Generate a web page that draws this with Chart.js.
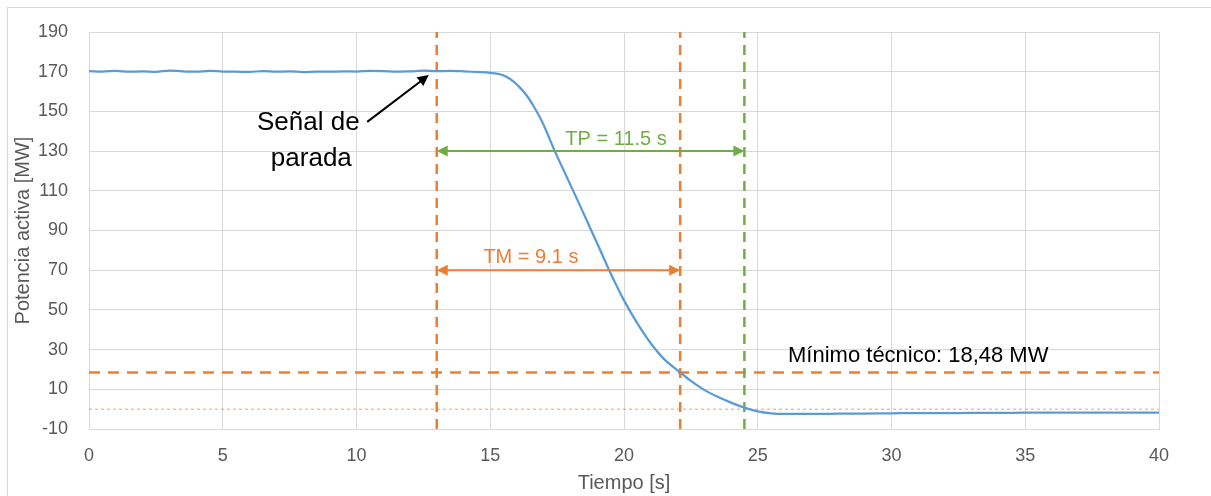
<!DOCTYPE html>
<html>
<head>
<meta charset="utf-8">
<script src="https://cdn.jsdelivr.net/npm/chart.js@4.4.1/dist/chart.umd.min.js"></script>
<style>
  body { margin: 0; background: #fff; }
  #wrap { width: 1211px; height: 496px; position: relative; }
</style>
</head>
<body>
<div id="wrap"><canvas id="powerChart"></canvas></div>
<script>
// tiempo [s] y potencia activa [MW]
const tiempo = [0, 0.5, 1, 1.5, 2, 2.5, 3, 3.5, 4, 4.5, 5, 5.5, 6, 6.5, 7, 7.5, 8, 8.5, 9, 9.5,
  10, 10.5, 11, 11.5, 12, 12.5, 13, 13.5, 14, 14.6, 15, 15.36, 15.6, 15.85, 16.1, 16.37, 16.6, 16.86,
  17.1, 17.38, 17.86, 18.36, 18.85, 19.1, 19.4, 19.7, 20, 20.5, 21, 21.5, 22.1, 22.5, 23, 23.5,
  24, 24.5, 25, 25.5, 26, 27, 28, 29, 30, 31, 32, 33, 34, 35, 36, 37, 38, 39, 40];
const potencia = [170.3, 170.1, 170.4, 170.0, 170.2, 169.9, 170.6, 170.2, 170.0, 170.4, 170.1, 170.0, 169.9, 170.3, 170.0, 170.2, 169.8, 170.1, 170.0, 170.2,
  170.1, 170.4, 170.3, 170.0, 170.2, 170.5, 170.3, 170.4, 170.2, 169.8, 169.4, 168.7, 167.4, 165.2, 162.1, 157.9, 153.1, 146.9,
  140.0, 131.0, 117.0, 102.4, 87.9, 80.4, 71.4, 62.8, 54.8, 43.2, 33.2, 25.2, 18.5, 14.2, 9.7, 6.2,
  3.3, 0.8, -1.1, -2.1, -2.4, -2.4, -2.3, -2.2, -2.1, -2.0, -2.0, -1.9, -1.9, -1.8, -1.8, -1.8, -1.7, -1.7, -1.7];

const xTicks = { min: 0, max: 40, step: 5 };
const yTicks = { min: -10, max: 190, step: 20 };

// marcas
const senalParada = 13;
const finTM = 22.1;
const finTP = 24.5;
const minimoTecnico = 18.48;
const nivelTP = 130;
const nivelTM = 70;
const textoTP = 'TP = 11.5 s';
const textoTM = 'TM = 9.1 s';
const textoMinimo = 'Mínimo técnico: 18,48 MW';
const textoSenal = ['Señal de', 'parada'];
const flechaSenal = [[10.4, 144.7], [12.7, 168.3]];

const BLUE = '#5B9BD5';
const ORANGE = '#ED7D31';
const GREEN = '#70AD47';
const GRID = '#D9D9D9';
const FONT = "'Liberation Sans', Arial, sans-serif";

function vline(x, color) {
  return {
    data: [{ x: x, y: yTicks.min }, { x: x, y: yTicks.max }],
    borderColor: color, borderWidth: 2.5, borderDash: [10, 7], pointRadius: 0
  };
}

function arrowHead(ctx, x, y, dir, color) {
  ctx.fillStyle = color;
  ctx.beginPath();
  ctx.moveTo(x, y);
  ctx.lineTo(x - dir * 11, y - 5.5);
  ctx.lineTo(x - dir * 11, y + 5.5);
  ctx.closePath();
  ctx.fill();
}

const annotations = {
  id: 'annotations',
  beforeDraw(chart) {
    const ctx = chart.ctx;
    ctx.save();
    ctx.strokeStyle = GRID;
    ctx.lineWidth = 1;
    ctx.strokeRect(7.5, 7.5, 3000, 3000);
    ctx.restore();
  },
  afterDatasetsDraw(chart) {
    const ctx = chart.ctx;
    const xs = chart.scales.x, ys = chart.scales.y;
    ctx.save();

    // doble flecha TP / TM
    [[finTP, nivelTP, GREEN, textoTP, 19.7, 6], [finTM, nivelTM, ORANGE, textoTM, 16.52, 7]].forEach(a => {
      const x1 = xs.getPixelForValue(senalParada), x2 = xs.getPixelForValue(a[0]);
      const y = ys.getPixelForValue(a[1]);
      ctx.strokeStyle = a[2];
      ctx.lineWidth = 2;
      ctx.beginPath();
      ctx.moveTo(x1 + 6, y);
      ctx.lineTo(x2 - 6, y);
      ctx.stroke();
      arrowHead(ctx, x1, y, -1, a[2]);
      arrowHead(ctx, x2, y, 1, a[2]);
      ctx.fillStyle = a[2];
      ctx.font = '20px ' + FONT;
      ctx.textAlign = 'center';
      ctx.textBaseline = 'alphabetic';
      ctx.fillText(a[3], xs.getPixelForValue(a[4]), y - a[5]);
    });

    // mínimo técnico
    ctx.fillStyle = '#000';
    ctx.font = '22px ' + FONT;
    ctx.textAlign = 'center';
    ctx.fillText(textoMinimo, xs.getPixelForValue(31), ys.getPixelForValue(minimoTecnico) - 10);

    // señal de parada
    ctx.font = '26px ' + FONT;
    const tx = xs.getPixelForValue(8.2);
    const ty = ys.getPixelForValue(flechaSenal[0][1]) + 8;
    ctx.fillText(textoSenal[0], tx, ty);
    ctx.fillText(textoSenal[1], tx + 3, ty + 36);

    const ax1 = xs.getPixelForValue(flechaSenal[0][0]), ay1 = ys.getPixelForValue(flechaSenal[0][1]);
    const ax2 = xs.getPixelForValue(flechaSenal[1][0]), ay2 = ys.getPixelForValue(flechaSenal[1][1]);
    const ang = Math.atan2(ay2 - ay1, ax2 - ax1);
    ctx.strokeStyle = '#000';
    ctx.lineWidth = 2;
    ctx.beginPath();
    ctx.moveTo(ax1, ay1);
    ctx.lineTo(ax2 - 8 * Math.cos(ang), ay2 - 8 * Math.sin(ang));
    ctx.stroke();
    ctx.translate(ax2, ay2);
    ctx.rotate(ang);
    arrowHead(ctx, 0, 0, 1, '#000');
    ctx.restore();
  }
};

new Chart(document.getElementById('powerChart'), {
  type: 'line',
  data: {
    datasets: [
      {
        data: tiempo.map((t, i) => ({ x: t, y: potencia[i] })),
        borderColor: BLUE, borderWidth: 2.25, pointRadius: 0,
        cubicInterpolationMode: 'monotone'
      },
      vline(senalParada, ORANGE),
      vline(finTM, ORANGE),
      vline(finTP, GREEN),
      {
        data: [{ x: xTicks.min, y: minimoTecnico }, { x: xTicks.max, y: minimoTecnico }],
        borderColor: ORANGE, borderWidth: 2.5, borderDash: [11, 8], pointRadius: 0
      },
      {
        data: [{ x: xTicks.min, y: 0 }, { x: xTicks.max, y: 0 }],
        borderColor: 'rgba(237,125,49,0.75)', borderWidth: 1, borderDash: [3, 3], pointRadius: 0
      }
    ]
  },
  options: {
    responsive: true,
    maintainAspectRatio: false,
    animation: false,
    layout: { padding: { top: 32, right: 52, left: 0, bottom: 0 } },
    plugins: { legend: { display: false }, tooltip: { enabled: false } },
    scales: {
      x: {
        type: 'linear', min: xTicks.min, max: xTicks.max,
        ticks: { stepSize: xTicks.step, color: '#595959', padding: 16, font: { family: FONT, size: 18 } },
        grid: { color: GRID, drawTicks: false },
        border: { color: GRID },
        title: { display: true, text: 'Tiempo [s]', color: '#595959', font: { family: FONT, size: 20 }, padding: { top: 0, bottom: 1 } },
        afterFit: s => { s.height = 67; }
      },
      y: {
        min: yTicks.min, max: yTicks.max,
        ticks: { stepSize: yTicks.step, color: '#595959', padding: 21, font: { family: FONT, size: 18 } },
        grid: { color: GRID, drawTicks: false },
        border: { color: GRID },
        title: { display: true, text: 'Potencia activa [MW]', color: '#595959', font: { family: FONT, size: 20 }, padding: { top: 11, bottom: 0 } },
        afterFit: s => { s.width = 89; }
      }
    }
  },
  plugins: [annotations]
});
</script>
</body>
</html>
